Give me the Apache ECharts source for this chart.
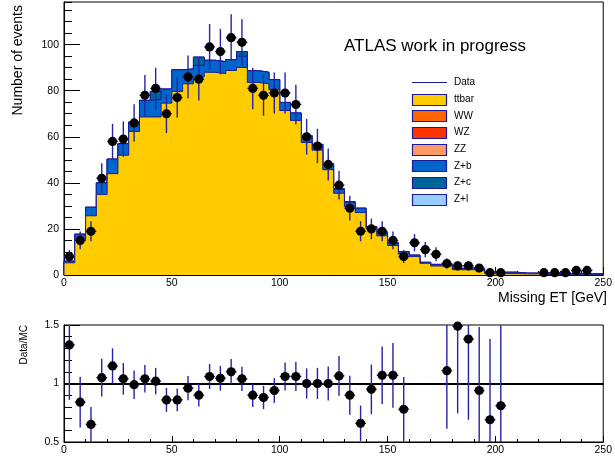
<!DOCTYPE html>
<html>
<head>
<meta charset="utf-8">
<script src="https://cdn.jsdelivr.net/npm/echarts@6/dist/echarts.min.js"></script>
<style>
  html, body { margin: 0; padding: 0; background: #fff; }
  #chart { width: 615px; height: 457px; }
</style>
</head>
<body>
<div id="chart"></div>
<script>
// ---- Data ----
const binCenters = [2.5,7.5,12.5,17.5,22.5,27.5,32.5,37.5,42.5,47.5,52.5,57.5,62.5,67.5,72.5,77.5,82.5,87.5,92.5,97.5,102.5,107.5,112.5,117.5,122.5,127.5,132.5,137.5,142.5,147.5,152.5,157.5,162.5,167.5,172.5,177.5,182.5,187.5,192.5,197.5,202.5,207.5,212.5,217.5,222.5,227.5,232.5,237.5,242.5,247.5];
const binHalfWidth = 2.5;
const xTickLabels = ['0','50','100','150','200','250'];

const dataCounts = [8,15,19,42,58,59,66,78,81,70,77,86,85,99,97,103,101,81,78,79,79,74,60,56,48,39,29,19,20,19,15,8,14,11,9,5,4,4,3,1,1,0,0,0,1,1,1,2,2,0];

const ttbar = [5.3,15,25.7,35,44,52,62.3,68.6,68.6,74.6,79.7,83,86,88,87.4,88.8,90.1,83.6,83,80.4,71.4,67.1,57.5,54.2,45.7,35.5,29.7,27.1,20.3,17,12.8,9.1,8,5.1,3.9,3.9,2.3,2.3,1.9,0.7,0.6,0.6,0.5,0.5,0.2,0.1,0.1,0.1,0.1,0.1];
const zb = [0.7,2.7,3.7,5.0,6.3,5.0,4.1,7.2,7.6,6.1,9.4,6.4,5.0,5.2,5.2,4.7,4.9,5.1,5.0,4.4,3.5,3.2,3.0,2.5,2.6,1.7,1.9,1.9,0.7,1.4,1.2,1.0,0.6,0.4,0.7,0.7,0.6,0.7,0.7,0.6,0.6,0.6,0.3,0.3,0.8,0.4,0.4,0.4,0.4,0.4];
const zc = [0,0,0,0,0,0,0,0,3.5,0,0,0,3.6,0,0,0,2.0,0,0,0,0,0,0,0,0,0,0,0,0,0,0,0,0,0,0,0,0,0,0,0,0,0,0,0,0,0,0,0,0,0];
const zl = [0,0,0,0,0,0,0,0,0,0,0,0,0,0,0,0,0,0,0,0,0,0,0,0,0,0.3,0.3,0,0,0,0,0,0,0,0,0,0,0,0,0,0,0,0,0,0,0,0,0,0,0];

const ratio = [1.33,0.84,0.65,1.05,1.15,1.04,0.99,1.04,1.02,0.86,0.86,0.96,0.90,1.06,1.045,1.10,1.04,0.90,0.88,0.94,1.06,1.06,1.0,1.0,1.0,1.065,0.90,0.66,0.95,1.07,1.07,0.78,null,null,null,1.11,1.49,1.38,0.94,0.69,0.81,null,null,null,null,null,null,null,null,null];

const legendNames = ['Data','ttbar','WW','WZ','ZZ','Z+b','Z+c','Z+l'];
const legendColors = [null,'#ffcc00','#ff6600','#ff3300','#ff9966','#0066cc','#006699','#99ccff'];

// ---- Styling ----
const FONT = '"Liberation Sans", Arial, Helvetica, sans-serif';
const OUTLINE = '#1a1a99';
const ERRCOL = '#2424a8';

// cumulative sums (THStack style: draw the total first, then each lower sum over it)
function addArr(a, b) { return a.map((v, i) => v + b[i]); }
const cumTtbar = ttbar.slice();
const cumZb = addArr(cumTtbar, zb);
const cumZc = addArr(cumZb, zc);
const cumZl = addArr(cumZc, zl);

function stepData(vals) {
  const pts = [[binCenters[0] - binHalfWidth, 0]];
  for (let i = 0; i < vals.length; i++) pts.push([binCenters[i] - binHalfWidth, vals[i]]);
  const last = binCenters[binCenters.length - 1] + binHalfWidth;
  pts.push([last, vals[vals.length - 1]]);
  pts.push([last, 0]);
  return pts;
}

function stackSeries(name, vals, color, z) {
  return {
    name, type: 'line', xAxisIndex: 0, yAxisIndex: 0,
    step: 'end', showSymbol: false, symbol: 'none', silent: true,
    data: stepData(vals),
    lineStyle: { color: OUTLINE, width: 1 },
    areaStyle: { color: color, opacity: 1, origin: 'start' },
    z: z
  };
}

const dataPoints = [];
dataCounts.forEach((n, i) => {
  if (n > 0) dataPoints.push([binCenters[i], n, Math.sqrt(n)]);
});
const ratioPoints = [];
ratio.forEach((r, i) => {
  if (r !== null && dataCounts[i] > 0) ratioPoints.push([binCenters[i], r, r / Math.sqrt(dataCounts[i])]);
});

function makeRender(yMin, yMax) {
  return function (params, api) {
    const x = api.value(0), y = api.value(1), e = api.value(2);
    const lo = x - binHalfWidth, hi = x + binHalfWidth;
    let y1 = y - e, y2 = y + e;
    if (yMin !== null) { y1 = Math.max(yMin, y1); y2 = Math.min(yMax, y2); }
    const pTop = api.coord([x, y2]);
    const pBot = api.coord([x, y1]);
    const pL = api.coord([lo, y]);
    const pR = api.coord([hi, y]);
    const c = api.coord([x, y]);
    return {
      type: 'group',
      children: [
        { type: 'line', shape: { x1: pTop[0], y1: pTop[1], x2: pBot[0], y2: pBot[1] }, style: { stroke: ERRCOL, lineWidth: 1.4 } },
        { type: 'line', shape: { x1: pL[0], y1: pL[1], x2: pR[0], y2: pR[1] }, style: { stroke: ERRCOL, lineWidth: 1.4 } },
        { type: 'circle', shape: { cx: c[0], cy: c[1], r: 4.6 }, style: { fill: '#000' } }
      ]
    };
  };
}

function xAxisDef(gi, tickLen, minorLen) {
  return {
    type: 'value', gridIndex: gi, min: 0, max: 250, interval: 50,
    axisLine: { show: true, onZero: false, lineStyle: { color: '#000', width: 1 } },
    axisTick: { show: true, inside: true, length: tickLen, lineStyle: { color: '#000' } },
    minorTick: { show: true, splitNumber: 5, length: minorLen, lineStyle: { color: '#000' } },
    splitLine: { show: false },
    axisLabel: { margin: 3, fontSize: 10.5, color: '#000', fontFamily: FONT,
      formatter: (v) => xTickLabels[Math.round(v / 50)] || '' }
  };
}

const legendGraphics = [];
legendNames.forEach((name, i) => {
  const cy = 82.5 + 16.67 * i;
  if (i === 0) {
    legendGraphics.push({ type: 'line', shape: { x1: 412, y1: cy, x2: 447, y2: cy }, style: { stroke: OUTLINE, lineWidth: 1 } });
  } else {
    legendGraphics.push({ type: 'rect', shape: { x: 412.5, y: Math.round(cy - 5.5) + 0.5, width: 34, height: 11 },
      style: { fill: legendColors[i], stroke: OUTLINE, lineWidth: 1.2 } });
  }
  legendGraphics.push({ type: 'text', x: 454, y: cy, style: { text: name, fill: '#000', font: '10px ' + FONT, verticalAlign: 'middle', align: 'left' } });
});

const chart = echarts.init(document.getElementById('chart'), null, { renderer: 'canvas' });
chart.setOption({
  animation: false,
  backgroundColor: '#fff',
  grid: [
    { left: 64, top: 2, width: 545, height: 273, show: true, borderColor: '#000', borderWidth: 1, backgroundColor: 'transparent', containLabel: false },
    { left: 64, top: 325, width: 545, height: 117, show: true, borderColor: '#000', borderWidth: 1, backgroundColor: 'transparent', containLabel: false }
  ],
  xAxis: [ xAxisDef(0, 8, 4), xAxisDef(1, 6, 3) ],
  yAxis: [
    { type: 'value', gridIndex: 0, min: 0, max: 118.5, interval: 20, position: 'left',
      axisLine: { show: true, lineStyle: { color: '#000' } },
      axisTick: { show: true, inside: true, length: 16, lineStyle: { color: '#000' } },
      splitLine: { show: false },
      axisLabel: { margin: 5, fontSize: 10.5, color: '#000', fontFamily: FONT, showMaxLabel: false } },
    { type: 'value', gridIndex: 0, min: 0, max: 118.5, interval: 5, position: 'left',
      axisLine: { show: false },
      axisTick: { show: true, inside: true, length: 8, lineStyle: { color: '#000' } },
      splitLine: { show: false }, axisLabel: { show: false } },
    { type: 'value', gridIndex: 1, min: 0.5, max: 1.5, interval: 0.5, position: 'left',
      axisLine: { show: true, lineStyle: { color: '#000' } },
      axisTick: { show: true, inside: true, length: 16, lineStyle: { color: '#000' } },
      minorTick: { show: true, splitNumber: 5, length: 8, lineStyle: { color: '#000' } },
      splitLine: { show: false },
      axisLabel: { margin: 5, fontSize: 10.5, color: '#000', fontFamily: FONT } }
  ],
  series: [
    stackSeries('Z+l', cumZl, '#99ccff', 1),
    stackSeries('Z+c', cumZc, '#006699', 2),
    stackSeries('Z+b', cumZb, '#0066cc', 3),
    stackSeries('ttbar', cumTtbar, '#ffcc00', 4),
    { name: 'Data', type: 'custom', xAxisIndex: 0, yAxisIndex: 0, data: dataPoints,
      renderItem: makeRender(null, null), clip: false, z: 6, silent: true },
    { name: 'Data/MC', type: 'custom', xAxisIndex: 1, yAxisIndex: 2, data: ratioPoints,
      renderItem: makeRender(0.5, 1.5), clip: false, z: 6, silent: true,
      markLine: { silent: true, symbol: 'none', label: { show: false },
        lineStyle: { color: '#000', width: 2, type: 'solid' }, data: [{ yAxis: 1 }] } }
  ],
  graphic: [
    { type: 'text', x: 344, y: 46, style: { text: 'ATLAS work in progress', fill: '#000', font: '17px ' + FONT, verticalAlign: 'middle', align: 'left' } },
    { type: 'text', x: 607, y: 298, style: { text: 'Missing ET [GeV]', fill: '#000', font: '14px ' + FONT, verticalAlign: 'middle', align: 'right' } },
    { type: 'text', x: 18, y: 5, rotation: Math.PI / 2, style: { text: 'Number of events', fill: '#000', font: '14px ' + FONT, verticalAlign: 'middle', align: 'right' } },
    { type: 'text', x: 24, y: 325, rotation: Math.PI / 2, style: { text: 'Data/MC', fill: '#000', font: '10px ' + FONT, verticalAlign: 'middle', align: 'right' } }
  ].concat(legendGraphics)
});
</script>
</body>
</html>
